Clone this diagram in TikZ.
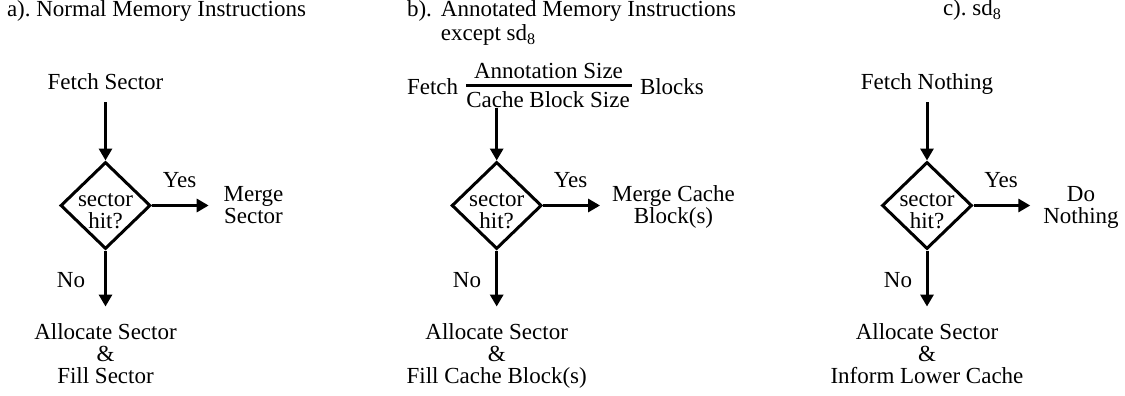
\documentclass[tikz,border=0pt]{standalone}
\usepackage{fontspec}
\setmainfont{Liberation Serif}
\usetikzlibrary{arrows.meta,shapes.geometric}
\begin{document}
\begin{tikzpicture}[x=1pt,y=-1pt,
  txt/.style={font=\fontsize{23}{22}\selectfont, inner sep=0pt, outer sep=0pt, align=center},
  dec/.style={draw, line width=3pt, shape=diamond, minimum width=90pt, minimum height=87pt, inner sep=0pt},
  arr/.style={line width=3pt, -{Triangle[length=12pt,width=13pt]}},
  bar/.style={line width=3pt}]
\useasboundingbox (0,0) rectangle (1125,396);
% titles
\node[txt, anchor=base west] (titleA) at (7,16.5) {a).\ Normal Memory Instructions};
\node[txt, anchor=base west] (titleB) at (407,16.7) {\begin{tabular}[t]{@{}l@{\hspace{9pt}}l@{}}b). & Annotated Memory Instructions\\[1.3pt] & except sd\textsubscript{8}\end{tabular}};
\node[txt, anchor=base west] (titleC) at (943,16) {c).\ sd\textsubscript{8}};
% panel a
\node[txt, anchor=base] (fetchA) at (105.5,90) {Fetch Sector};
\node[dec] (diaA) at (105.5,205.5) {};
\node[txt] (qA) at (105.5,211.5) {sector\\hit?};
\node[txt, anchor=base] (yesA) at (179.5,187) {Yes};
\node[txt, anchor=base] (mergeA) at (253.5,223) {Merge\\Sector};
\node[txt, anchor=base] (noA) at (71,287) {No};
\node[txt, anchor=base] (allocA) at (105.5,383) {Allocate Sector\\\&\\Fill Sector};
\draw[arr, shorten <=12pt] (fetchA.base) -- (diaA.north);
\draw[arr, shorten >=15pt] (diaA.east) -- (diaA.east -| mergeA.west);
\draw[arr, shorten >=16.5pt] (diaA.south) -- (allocA.north);
% panel b
\node[txt, anchor=base west] (fetchB) at (407,95) {Fetch};
\node[txt, anchor=base] (numB) at (548.5,78) {Annotation Size};
\node[txt, anchor=base] (denB) at (548,107) {Cache Block Size};
\node[txt, anchor=base west] (blocksB) at (640,95) {Blocks};
\draw[bar] (denB.west |- 0,86) -- (632,86);
\node[dec] (diaB) at (496.7,205.5) {};
\node[txt] (qB) at (496.7,211.5) {sector\\hit?};
\node[txt, anchor=base] (yesB) at (570.5,187) {Yes};
\node[txt, anchor=base] (mergeB) at (673.5,223) {Merge Cache\\Block(s)};
\node[txt, anchor=base] (noB) at (467,287) {No};
\node[txt, anchor=base] (allocB) at (496.7,383) {Allocate Sector\\\&\\Fill Cache Block(s)};
\draw[arr, shorten <=1pt] (denB.south -| diaB.north) -- (diaB.north);
\draw[arr, shorten >=12pt] (diaB.east) -- (diaB.east -| mergeB.west);
\draw[arr, shorten >=16.5pt] (diaB.south) -- (allocB.north);
% panel c
\node[txt, anchor=base] (fetchC) at (927,90) {Fetch Nothing};
\node[dec] (diaC) at (927,205.5) {};
\node[txt] (qC) at (927,211.5) {sector\\hit?};
\node[txt, anchor=base] (yesC) at (1001,187) {Yes};
\node[txt, anchor=base] (doC) at (1081,223) {Do\\Nothing};
\node[txt, anchor=base] (noC) at (898,287) {No};
\node[txt, anchor=base] (allocC) at (927,383) {Allocate Sector\\\&\\Inform Lower Cache};
\draw[arr, shorten <=12pt] (fetchC.base) -- (diaC.north);
\draw[arr, shorten >=13pt] (diaC.east) -- (diaC.east -| doC.west);
\draw[arr, shorten >=16.5pt] (diaC.south) -- (allocC.north);
\end{tikzpicture}
\end{document}
